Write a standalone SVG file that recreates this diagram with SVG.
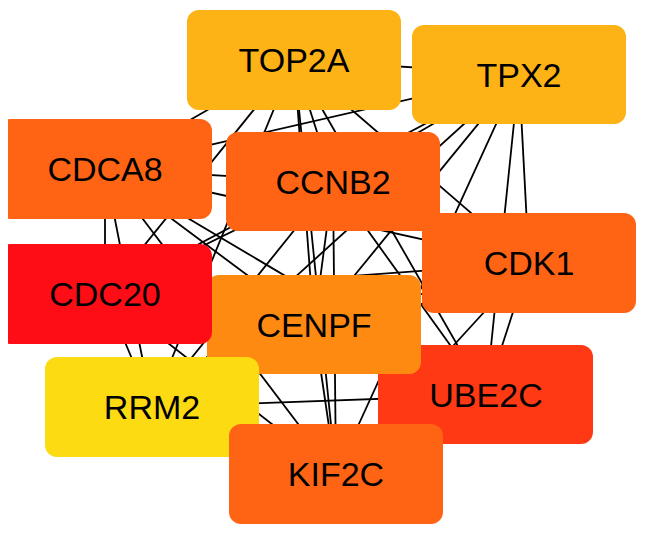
<svg xmlns="http://www.w3.org/2000/svg" width="646" height="536" viewBox="0 0 646 536">
<style>
.e line{stroke:#000;stroke-width:1.8;fill:none}
.n text{font-family:"Liberation Sans",Arial,sans-serif;font-size:34px;fill:#000;text-anchor:middle}
</style>
<defs>
<clipPath id="crop"><rect x="8" y="0" width="638" height="536"/></clipPath>
</defs>
<rect width="646" height="536" fill="#fff"/>
<g class="e" id="edges">
<line x1="294" y1="60" x2="519" y2="74"/>
<line x1="294" y1="60" x2="105" y2="169"/>
<line x1="294" y1="60" x2="333" y2="182"/>
<line x1="294" y1="60" x2="105" y2="294"/>
<line x1="294" y1="60" x2="314" y2="325"/>
<line x1="294" y1="60" x2="529" y2="263"/>
<line x1="294" y1="60" x2="486" y2="395"/>
<line x1="294" y1="60" x2="152" y2="407"/>
<line x1="294" y1="60" x2="336" y2="474"/>
<line x1="519" y1="74" x2="105" y2="169"/>
<line x1="519" y1="74" x2="333" y2="182"/>
<line x1="519" y1="74" x2="105" y2="294"/>
<line x1="519" y1="74" x2="314" y2="325"/>
<line x1="519" y1="74" x2="529" y2="263"/>
<line x1="519" y1="74" x2="486" y2="395"/>
<line x1="519" y1="74" x2="152" y2="407"/>
<line x1="519" y1="74" x2="336" y2="474"/>
<line x1="105" y1="169" x2="333" y2="182"/>
<line x1="105" y1="169" x2="105" y2="294"/>
<line x1="105" y1="169" x2="314" y2="325"/>
<line x1="105" y1="169" x2="529" y2="263"/>
<line x1="105" y1="169" x2="486" y2="395"/>
<line x1="105" y1="169" x2="152" y2="407"/>
<line x1="105" y1="169" x2="336" y2="474"/>
<line x1="333" y1="182" x2="105" y2="294"/>
<line x1="333" y1="182" x2="314" y2="325"/>
<line x1="333" y1="182" x2="529" y2="263"/>
<line x1="333" y1="182" x2="486" y2="395"/>
<line x1="333" y1="182" x2="152" y2="407"/>
<line x1="333" y1="182" x2="336" y2="474"/>
<line x1="105" y1="294" x2="314" y2="325"/>
<line x1="105" y1="294" x2="529" y2="263"/>
<line x1="105" y1="294" x2="486" y2="395"/>
<line x1="105" y1="294" x2="152" y2="407"/>
<line x1="105" y1="294" x2="336" y2="474"/>
<line x1="314" y1="325" x2="529" y2="263"/>
<line x1="314" y1="325" x2="486" y2="395"/>
<line x1="314" y1="325" x2="152" y2="407"/>
<line x1="314" y1="325" x2="336" y2="474"/>
<line x1="529" y1="263" x2="486" y2="395"/>
<line x1="529" y1="263" x2="152" y2="407"/>
<line x1="529" y1="263" x2="336" y2="474"/>
<line x1="486" y1="395" x2="152" y2="407"/>
<line x1="486" y1="395" x2="336" y2="474"/>
<line x1="152" y1="407" x2="336" y2="474"/>
</g>
<g class="n" id="TOP2A"><rect x="187" y="10" width="214" height="100" rx="12" fill="#FDB215"/><text x="294" y="72">TOP2A</text></g>
<g class="n" id="TPX2"><rect x="412" y="25" width="214" height="99" rx="12" fill="#FDB215"/><text x="519" y="87">TPX2</text></g>
<g class="n" id="CDCA8" clip-path="url(#crop)"><rect x="-2" y="119" width="214" height="100" rx="12" fill="#FF6414"/><text x="105" y="181">CDCA8</text></g>
<g class="n" id="CCNB2"><rect x="226" y="132" width="214" height="99" rx="12" fill="#FF6414"/><text x="333" y="194">CCNB2</text></g>
<g class="n" id="CDK1"><rect x="422" y="213" width="214" height="100" rx="12" fill="#FF6414"/><text x="529" y="275">CDK1</text></g>
<g class="n" id="UBE2C"><rect x="378" y="345" width="215" height="99" rx="12" fill="#FF3914"/><text x="486" y="407">UBE2C</text></g>
<g class="n" id="CENPF"><rect x="207" y="275" width="214" height="99" rx="12" fill="#FF8A12"/><text x="314" y="337">CENPF</text></g>
<g class="n" id="CDC20" clip-path="url(#crop)"><rect x="-2" y="244" width="214" height="100" rx="12" fill="#FF0D16"/><text x="105" y="306">CDC20</text></g>
<g class="n" id="RRM2"><rect x="45" y="357" width="214" height="100" rx="12" fill="#FDDB13"/><text x="152" y="419">RRM2</text></g>
<g class="n" id="KIF2C"><rect x="229" y="424" width="214" height="100" rx="12" fill="#FF6414"/><text x="336" y="486">KIF2C</text></g>
</svg>
